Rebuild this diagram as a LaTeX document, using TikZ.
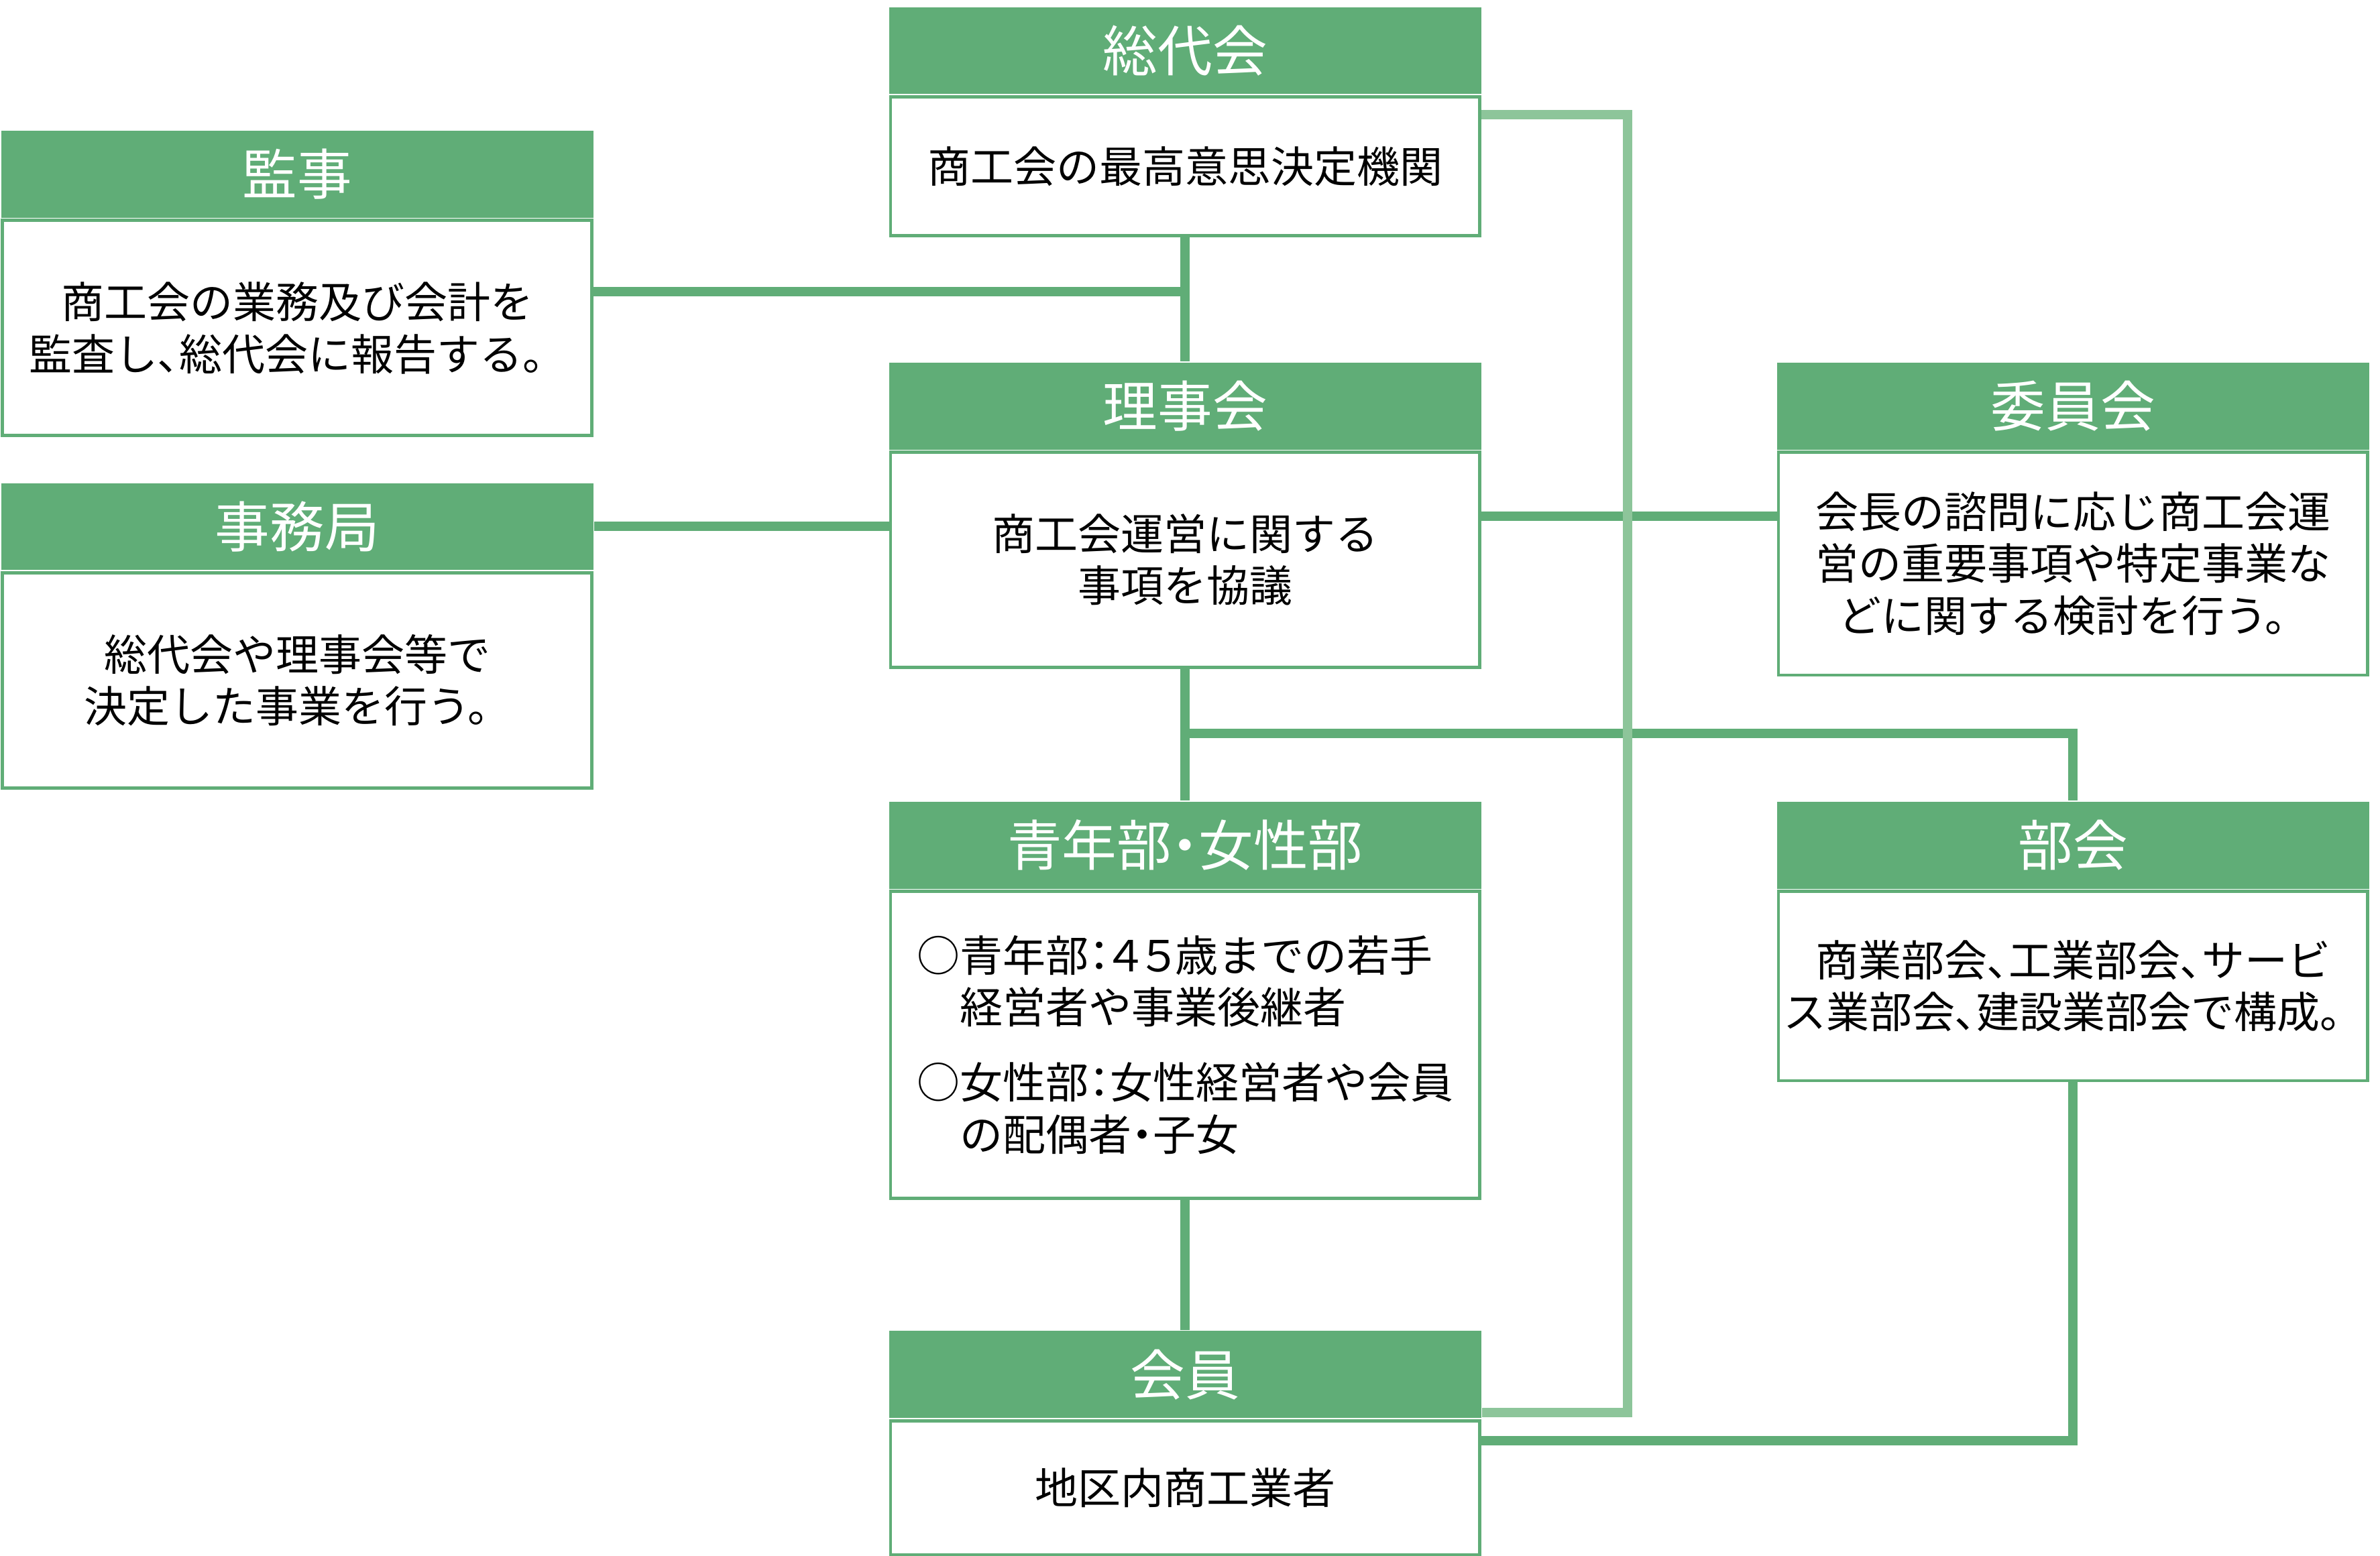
\documentclass[tikz,border=0pt]{standalone}
\usepackage{fontspec}
\setmainfont{Noto Sans CJK JP}
\newfontfamily\pfont[RawFeature=+palt]{Noto Sans CJK JP}
\newcommand\pp[1]{{\pfont #1}}
\usetikzlibrary{positioning}
\definecolor{kgreen}{RGB}{96,173,119}
\definecolor{lgreen}{RGB}{141,197,154}

\begin{document}
\begin{tikzpicture}[x=0.01cm,y=-0.01cm,
  head/.style={fill=kgreen, text=white, anchor=north west, inner sep=0,
    minimum width=3.88cm, minimum height=0.57cm, font=\fontsize{10.2}{12}\selectfont},
  body/.style={draw=kgreen, line width=0.6pt, fill=white, inner sep=0,
    minimum width=3.86cm, align=center, font=\fontsize{8}{9.7}\selectfont},
  link/.style={kgreen, line width=1.75pt},
  light/.style={lgreen, line width=1.75pt}]
\useasboundingbox (0,0) rectangle (1560,1020);

% headers and bodies
\node[head] (soudai) at (582,4) {総代会};
\node[body, minimum height=0.91cm, below=0pt of soudai] (soudai-b) {商工会の最高意思決定機関};

\node[head] (kanji) at (0,85) {監事};
\node[body, minimum height=1.41cm, below=0pt of kanji] (kanji-b) {商工会の業務及び会計を\\監査し\pp{、}総代会に報告する。};

\node[head] (riji) at (582,237) {理事会};
\node[body, minimum height=1.41cm, below=0pt of riji] (riji-b) {商工会運営に関する\\事項を協議};

\node[head] (jimu) at (0,316) {事務局};
\node[body, minimum height=1.41cm, below=0pt of jimu] (jimu-b) {総代会や理事会等で\\決定した事業を行う。};

\node[head] (iin) at (1164,237) {委員会};
\node[body, minimum height=1.46cm, below=0pt of iin] (iin-b) {会長の諮問に応じ商工会運\\営の重要事項や特定事業な\\どに関する検討を行う。};

\node[head] (seinen) at (582,525) {青年部\pp{・}女性部};
\node[body, minimum height=2.01cm, below=0pt of seinen, align=left] (seinen-b)
  {○青年部\pp{：４５}歳までの若手\\\hspace*{1em}経営者や事業後継者\\[0.15cm]
   ○女性部\pp{：}女性経営者や会員\\\hspace*{1em}の配偶者\pp{・}子女};

\node[head] (bukai) at (1164,525) {部会};
\node[body, minimum height=1.24cm, below=0pt of bukai] (bukai-b) {商業部会\pp{、}工業部会\pp{、}サービ\\ス業部会\pp{、}建設業部会で構成。};

\node[head] (kaiin) at (582,872) {会員};
\node[body, minimum height=0.88cm, below=0pt of kaiin] (kaiin-b) {地区内商工業者};

% connectors
\coordinate (kj) at (776,191);
\coordinate (br) at (776,481);
\draw[link] (soudai-b.south) -- (riji.north);
\draw[link] (kanji-b.east |- kj) -- (kj);
\draw[link] (jimu.east) -- (jimu.east -| riji-b.west);
\draw[link] ([yshift=0.285cm]riji-b.east) -- ([yshift=0.285cm]riji-b.east -| iin-b.west);
\draw[link] (riji-b.south) -- (seinen.north);
\draw[link] (br) -| (bukai.north);
\draw[link] (seinen-b.south) -- (kaiin.north);
\draw[link] (bukai-b.south) |- ([yshift=0.31cm]kaiin-b.east);

\coordinate (lt) at (1067,75);
\draw[light] (soudai-b.east |- lt) -- (lt) |- ([yshift=-0.25cm]kaiin.east);
\end{tikzpicture}
\end{document}
